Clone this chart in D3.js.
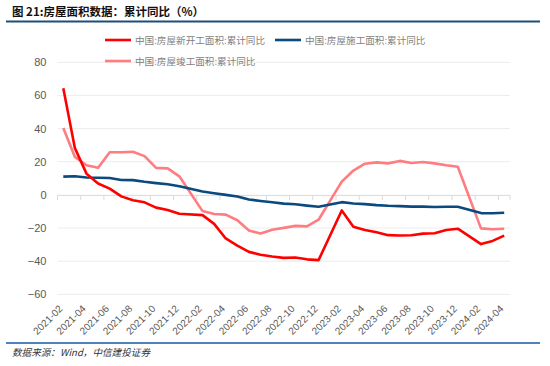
<!DOCTYPE html>
<html><head><meta charset="utf-8">
<script src="https://cdn.jsdelivr.net/npm/d3@7/dist/d3.min.js"></script>
<style>
body{margin:0;background:#fff;}
svg{display:block;}
</style></head>
<body>
<svg id="c" width="550" height="366"></svg>
<script>
// Categories: every month Feb 2021 – Apr 2024 (January values are not published -> null)
const months = [];
for (let y = 2021; y <= 2024; y++) {
  for (let m = 1; m <= 12; m++) {
    const s = y + "-" + String(m).padStart(2, "0");
    if (s >= "2021-02" && s <= "2024-04") months.push(s);
  }
}
const tickLabels = ["2021-02","2021-04","2021-06","2021-08","2021-10","2021-12",
  "2022-02","2022-04","2022-06","2022-08","2022-10","2022-12",
  "2023-02","2023-04","2023-06","2023-08","2023-10","2023-12","2024-02","2024-04"];
const yTicks = [-60,-40,-20,0,20,40,60,80];

// 中国:房屋新开工面积:累计同比
const newStarts = [64.3,28.2,12.8,6.9,3.8,-0.9,-3.2,-4.5,-7.7,-9.1,-11.4,
  null,-12.2,-17.5,-26.3,-30.6,-34.4,-36.1,-37.2,-38.0,-37.8,-38.9,-39.4,
  null,-9.4,-19.2,-21.2,-22.6,-24.3,-24.5,-24.4,-23.4,-23.2,-21.2,-20.4,
  null,-29.7,-27.8,-24.6];
// 中国:房屋施工面积:累计同比
const underConstruction = [11.0,11.2,10.5,10.3,10.2,9.0,8.9,7.9,7.1,6.4,5.2,
  null,2.0,1.0,0.0,-1.0,-2.8,-3.7,-4.5,-5.3,-5.7,-6.5,-7.2,
  null,-4.4,-5.2,-5.6,-6.2,-6.6,-6.8,-7.1,-7.1,-7.3,-7.2,-7.2,
  null,-11.0,-11.1,-10.8];
// 中国:房屋竣工面积:累计同比
const completed = [40.4,22.9,17.9,16.4,25.7,25.7,26.0,23.4,16.3,16.0,11.2,
  null,-9.8,-11.5,-11.9,-15.3,-21.5,-23.3,-21.1,-19.9,-18.7,-19.0,-15.0,
  null,8.0,14.7,18.8,19.6,19.0,20.5,19.2,19.8,19.0,17.9,17.0,
  null,-20.2,-20.7,-20.4];

const seriesNames = ["中国:房屋新开工面积:累计同比","中国:房屋施工面积:累计同比","中国:房屋竣工面积:累计同比"];
const seriesColors = ["#ff0000","#0b4a7e","#ff7c80"];
const seriesData = [newStarts, underConstruction, completed];

const svg = d3.select("#c");
const L = 57.5, R = 510, T = 62.3, B = 294.3;

const x = d3.scaleBand().domain(months).range([L, R]).paddingInner(0).paddingOuter(0);
const y = d3.scaleLinear().domain([-60, 80]).range([B, T]);

// Title
svg.append("text").attr("x", 12).attr("y", 16)
  .attr("font-family", "'Noto Sans CJK SC', sans-serif").attr("font-weight", "bold")
  .attr("font-size", 11.5).attr("fill", "#111")
  .text("图 21:房屋面积数据：累计同比（%）");
svg.append("line").attr("x1", 6).attr("x2", 540).attr("y1", 21.5).attr("y2", 21.5)
  .attr("stroke", "#1f4e79").attr("stroke-width", 2);

// gridlines
svg.append("g").selectAll("line").data(yTicks.filter(d => d !== 0)).join("line")
  .attr("x1", L).attr("x2", R).attr("y1", d => y(d)).attr("y2", d => y(d))
  .attr("stroke", "#ececec").attr("stroke-width", 1);

// y axis labels
const yAxis = d3.axisLeft(y).tickValues(yTicks).tickSize(0).tickPadding(0);
const gy = svg.append("g").attr("transform", `translate(${L - 11},0)`).call(yAxis);
gy.select(".domain").remove();
gy.selectAll("text").attr("font-family", "'Liberation Sans', Arial, sans-serif")
  .attr("font-size", 11).attr("fill", "#595959");

// x axis at zero
const tickPos = months.filter((m, i) => i % 2 === 0);
const xAxis = d3.axisBottom(x).tickValues(tickLabels).tickSize(0).tickFormat(d => d);
const gx = svg.append("g").attr("transform", `translate(0,${y(0)})`);
gx.append("line").attr("x1", L).attr("x2", R).attr("y1", 0.5).attr("y2", 0.5)
  .attr("stroke", "#d9d9d9").attr("stroke-width", 1);
gx.selectAll("line.tk").data(tickPos).join("line").attr("class", "tk")
  .attr("x1", d => x(d)).attr("x2", d => x(d)).attr("y1", 0.5).attr("y2", 5)
  .attr("stroke", "#d9d9d9");
gx.append("line").attr("x1", R).attr("x2", R).attr("y1", 0.5).attr("y2", 5).attr("stroke", "#d9d9d9");

// x tick labels (rotated) at bottom
const gxl = svg.append("g").attr("transform", `translate(0,${B})`).call(xAxis);
gxl.select(".domain").remove();
gxl.selectAll(".tick text")
  .attr("font-family", "'Liberation Sans', Arial, sans-serif")
  .attr("font-size", 10).attr("fill", "#595959")
  .attr("text-anchor", "end").attr("dy", null).attr("y", 0)
  .attr("transform", "translate(0,15) rotate(-45)");

// lines
const line = d3.line().defined(d => d.v !== null)
  .x(d => x(d.m) + x.bandwidth() / 2).y(d => y(d.v));
[2, 1, 0].forEach(k => {
  const pts = months.map((m, i) => ({ m, v: seriesData[k][i] })).filter(d => d.v !== null);
  svg.append("path").datum(pts).attr("d", line).attr("fill", "none")
    .attr("stroke", seriesColors[k]).attr("stroke-width", 2.6)
    .attr("stroke-linejoin", "round");
});

// legend
const legendPos = [[105, 40], [275, 40], [105, 61]];
seriesNames.forEach((n, k) => {
  const g = svg.append("g").attr("transform", `translate(${legendPos[k][0]},${legendPos[k][1]})`);
  g.append("line").attr("x1", 0).attr("x2", 26).attr("y1", 0).attr("y2", 0)
    .attr("stroke", seriesColors[k]).attr("stroke-width", 2.6);
  g.append("text").attr("x", 30).attr("y", 3.5)
    .attr("font-family", "'Noto Sans CJK SC', sans-serif").attr("font-size", 9.6)
    .attr("fill", "#7f7f7f").text(n);
});

// footer
svg.append("line").attr("x1", 6).attr("x2", 540).attr("y1", 343).attr("y2", 343)
  .attr("stroke", "#4f81bd").attr("stroke-width", 2);
svg.append("text").attr("x", 12).attr("y", 356)
  .attr("font-family", "'Noto Sans CJK SC', sans-serif").attr("font-style", "italic")
  .attr("font-size", 9.6).attr("fill", "#333").text("数据来源：Wind，中信建投证券");
</script>
</body></html>
